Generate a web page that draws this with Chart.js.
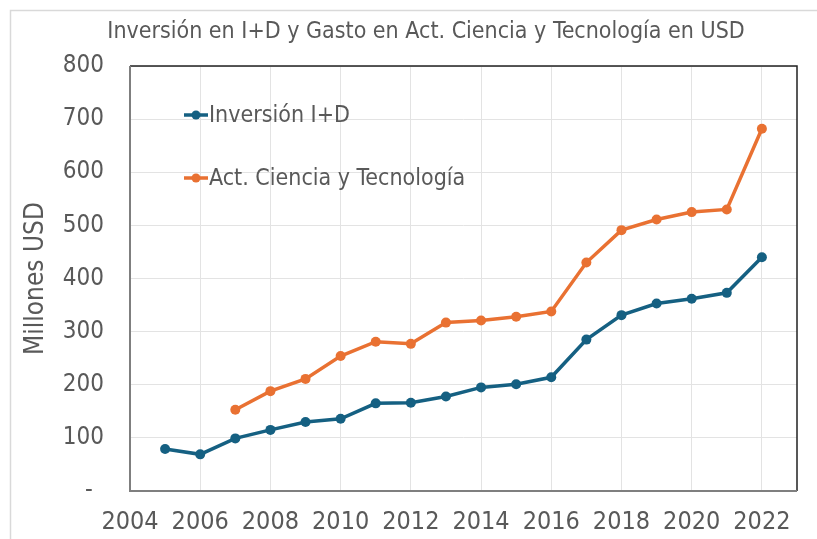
<!DOCTYPE html>
<html>
<head>
<meta charset="utf-8">
<script src="https://cdn.jsdelivr.net/npm/chart.js@4"></script>
<style>
  html, body { margin: 0; padding: 0; background: #fff; }
  #wrap { width: 817px; height: 539px; }
</style>
</head>
<body>
<div id="wrap"><canvas id="myChart" width="817" height="539"></canvas></div>
<script>
const years = [2005, 2006, 2007, 2008, 2009, 2010, 2011, 2012, 2013, 2014, 2015, 2016, 2017, 2018, 2019, 2020, 2021, 2022];
const inversionID = [79, 69, 99, 115, 130, 136, 165, 166, 178, 195, 201, 214, 285, 331, 353, 362, 373, 440];
const actCienciaTec = [null, null, 153, 188, 211, 254, 281, 277, 317, 321, 328, 338, 430, 491, 511, 525, 530, 682];
const seriesNames = ["Inversión I+D", "Act. Ciencia y Tecnología"];
const xTicks = [2004, 2006, 2008, 2010, 2012, 2014, 2016, 2018, 2020, 2022];
const chartTitle = 'Inversión en I+D y Gasto en Act. Ciencia y Tecnología en USD';

const FONT = '"DejaVu Sans Condensed", "Liberation Sans Narrow", sans-serif';
const TEXT = '#595959';
const BLUE = '#156082';
const ORANGE = '#E97132';

function toPoints(vals) {
    return years.map((y, i) => ({ x: y, y: vals[i] }));
}

// frame, title, box round the plot and the legend inside it
const extras = {
    id: 'extras',
    beforeDraw(chart) {
        const c = chart.ctx;
        c.save();
        c.strokeStyle = '#d9d9d9';
        c.lineWidth = 1.5;
        c.beginPath();
        c.moveTo(10.5, 545);
        c.lineTo(10.5, 10.5);
        c.lineTo(830, 10.5);
        c.stroke();
        c.fillStyle = TEXT;
        c.font = '23px ' + FONT;
        c.textAlign = 'center';
        c.textBaseline = 'middle';
        c.fillText(chartTitle, 426, 32);
        c.restore();
    },
    afterDatasetsDraw(chart) {
        const c = chart.ctx;
        const a = chart.chartArea;
        c.save();
        c.lineWidth = 1.5;
        c.strokeStyle = '#222';
        c.beginPath();
        c.moveTo(a.left, a.top);
        c.lineTo(a.right, a.top);
        c.lineTo(a.right, a.bottom);
        c.stroke();
        c.strokeStyle = '#7f7f7f';
        c.lineWidth = 2;
        c.beginPath();
        c.moveTo(a.left, a.top);
        c.lineTo(a.left, a.bottom);
        c.lineTo(a.right, a.bottom);
        c.stroke();

        // legend
        const items = [
            { name: seriesNames[0], color: BLUE, y: 115 },
            { name: seriesNames[1], color: ORANGE, y: 178 }
        ];
        c.font = '23px ' + FONT;
        c.textBaseline = 'middle';
        items.forEach(it => {
            c.strokeStyle = it.color;
            c.fillStyle = it.color;
            c.lineWidth = 3.5;
            c.beginPath();
            c.moveTo(184, it.y);
            c.lineTo(208, it.y);
            c.stroke();
            c.beginPath();
            c.arc(196, it.y, 4.5, 0, Math.PI * 2);
            c.fill();
            c.fillStyle = TEXT;
            c.fillText(it.name, 209, it.y + 1);
        });
        c.restore();
    }
};

const ctx = document.getElementById('myChart').getContext('2d');

const statsChart = new Chart(ctx, {
    type: 'line',
    data: {
        datasets: [{
            label: seriesNames[0],
            data: toPoints(inversionID),
            borderColor: BLUE,
            backgroundColor: BLUE,
            borderWidth: 3.5,
            pointRadius: 5,
            pointBorderWidth: 0,
            tension: 0
        }, {
            label: seriesNames[1],
            data: toPoints(actCienciaTec),
            borderColor: ORANGE,
            backgroundColor: ORANGE,
            borderWidth: 3.5,
            pointRadius: 5,
            pointBorderWidth: 0,
            tension: 0
        }]
    },
    options: {
        responsive: false,
        animation: false,
        layout: { padding: { top: 66, right: 20, left: 21, bottom: 0 } },
        plugins: {
            legend: { display: false },
            tooltip: { enabled: false },
            title: { display: false }
        },
        scales: {
            x: {
                type: 'linear',
                min: 2004,
                max: 2023,
                afterBuildTicks(scale) {
                    scale.ticks = xTicks.map(v => ({ value: v }));
                },
                afterFit(scale) { scale.height = 48; },
                ticks: {
                    color: TEXT,
                    padding: 16,
                    maxRotation: 0,
                    autoSkip: false,
                    font: { family: FONT, size: 25 },
                    callback: v => String(v)
                },
                grid: { color: '#e3e3e3', lineWidth: 1, drawTicks: false },
                border: { display: false }
            },
            y: {
                min: 0,
                max: 800,
                afterFit(scale) { scale.width = 109; },
                ticks: {
                    stepSize: 100,
                    color: TEXT,
                    padding: 26,
                    font: { family: FONT, size: 24 },
                    callback: v => v === 0 ? '-\u2009 ' : v
                },
                grid: { color: '#e3e3e3', lineWidth: 1, drawTicks: false },
                border: { display: false },
                title: {
                    display: true,
                    text: 'Millones USD',
                    color: TEXT,
                    font: { family: FONT, size: 26 },
                    padding: { top: 0, bottom: 0 }
                }
            }
        }
    },
    plugins: [extras]
});
</script>
</body>
</html>
